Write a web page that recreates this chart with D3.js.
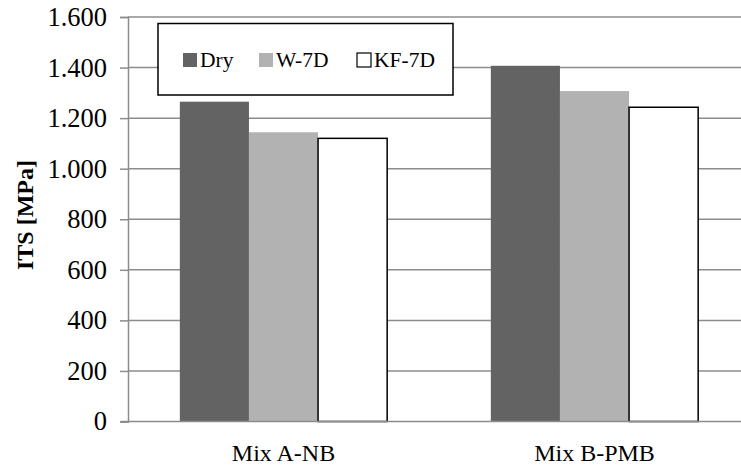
<!DOCTYPE html>
<html><head><meta charset="utf-8">
<script src="https://cdn.jsdelivr.net/npm/d3@7"></script>
<style>body{margin:0;background:#fff}svg{display:block}text{font-family:"Liberation Serif","Times New Roman",serif;fill:#000}</style>
</head><body>
<svg id="c" width="741" height="466"></svg>
<script>
const categories = ["Mix A-NB", "Mix B-PMB"];
const series = ["Dry", "W-7D", "KF-7D"];
const dryValues = [1265, 1407];
const w7dValues = [1144, 1307];
const kf7dValues = [1120, 1243];
const yTicks = [0, 200, 400, 600, 800, 1000, 1200, 1400, 1600];
const yTitle = "ITS [MPa]";

const valuesBySeries = {"Dry": dryValues, "W-7D": w7dValues, "KF-7D": kf7dValues};
const fills = {"Dry": "#636363", "W-7D": "#b2b2b2", "KF-7D": "#ffffff"};
const strokes = {"Dry": "none", "W-7D": "none", "KF-7D": "#000"};

const svg = d3.select("#c");
const pLeft = 128, pRight = 750, pTop = 17, pBottom = 421.5;
const x = d3.scaleBand().domain(categories).range([pLeft, pRight]);
const gap = x.bandwidth() * 1.5 / 4.5;
const xs = d3.scaleBand().domain(series).range([gap / 2, x.bandwidth() - gap / 2]);
const y = d3.scaleLinear().domain([0, 1600]).range([pBottom, pTop]);
const loc = d3.formatLocale({decimal: ",", thousands: ".", grouping: [3], currency: ["", ""]});
const fmt = loc.format(",");

// gridlines
svg.append("g").selectAll("line").data(yTicks.filter(d => d > 0)).join("line")
  .attr("x1", pLeft).attr("x2", 741).attr("y1", d => y(d)).attr("y2", d => y(d))
  .attr("stroke", "#8c8c8c").attr("stroke-width", 1.5);

// y axis
const ya = svg.append("g").attr("transform", `translate(${pLeft},0)`)
  .call(d3.axisLeft(y).tickValues(yTicks).tickFormat(fmt).tickSize(8).tickPadding(13));
ya.attr("font-size", null).attr("font-family", null);
ya.select(".domain").attr("stroke", "#8c8c8c").attr("stroke-width", 1.5);
ya.selectAll(".tick line").attr("stroke", "#8c8c8c").attr("stroke-width", 1.5);
ya.selectAll(".tick text").style("font-size", "26.5px").style("font-family", "'Liberation Serif', serif");

// bars
const groups = svg.append("g").selectAll("g").data(series).join("g");
groups.selectAll("rect").data(s => categories.map((c, i) => ({s, c, v: valuesBySeries[s][i]}))).join("rect")
  .attr("x", d => x(d.c) + xs(d.s)).attr("width", xs.bandwidth())
  .attr("y", d => y(d.v)).attr("height", d => y(0) - y(d.v))
  .attr("fill", d => fills[d.s]).attr("stroke", d => strokes[d.s]).attr("stroke-width", 1.5);

// baseline
svg.append("line").attr("x1", pLeft - 7).attr("x2", 741).attr("y1", y(0)).attr("y2", y(0))
  .attr("stroke", "#8c8c8c").attr("stroke-width", 1.5);

// x labels
svg.append("g").selectAll("text").data(categories).join("text")
  .attr("x", d => x(d) + x.bandwidth() / 2).attr("y", 461)
  .attr("text-anchor", "middle").style("font-size", "24px").text(d => d);

// y title
svg.append("text").attr("transform", `translate(33,215) rotate(-90)`)
  .attr("text-anchor", "middle").style("font-size", "24px").attr("font-weight", "bold").text(yTitle);

// legend
const lg = svg.append("g");
lg.append("rect").attr("x", 158).attr("y", 23.5).attr("width", 295).attr("height", 71.5)
  .attr("fill", "#fff").attr("stroke", "#000").attr("stroke-width", 1.5);
const lx = [183, 259, 357];
series.forEach((s, i) => {
  lg.append("rect").attr("x", lx[i]).attr("y", 53).attr("width", 14).attr("height", 14)
    .attr("fill", fills[s]).attr("stroke", strokes[s]).attr("stroke-width", 1.2);
  lg.append("text").attr("x", lx[i] + 17).attr("y", 67).style("font-size", "21.5px").text(s);
});
</script>
</body></html>
